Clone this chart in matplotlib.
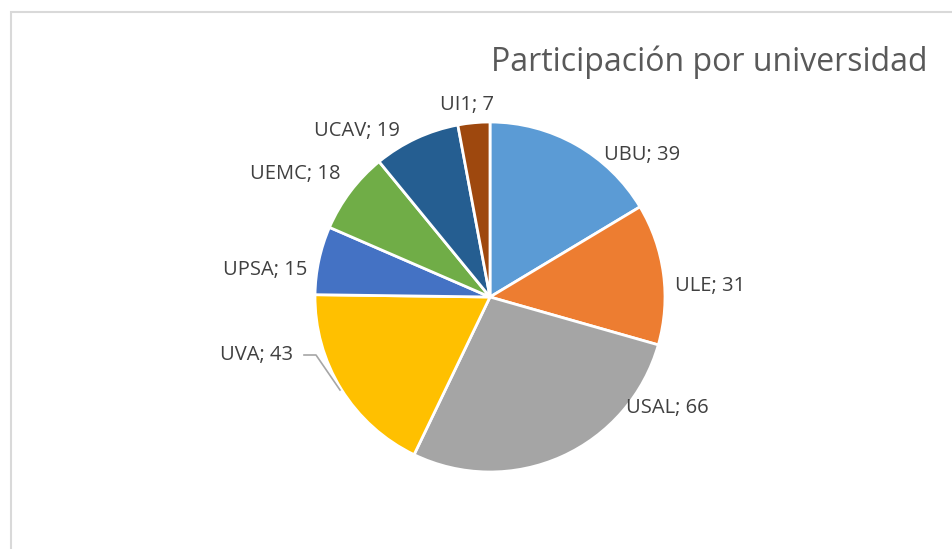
import matplotlib.pyplot as plt
from matplotlib.patches import Rectangle

universidades = ["UBU", "ULE", "USAL", "UVA", "UPSA", "UEMC", "UCAV", "UI1"]
participantes = [39, 31, 66, 43, 15, 18, 19, 7]
colores = ["#5B9BD5", "#ED7D31", "#A5A5A5", "#FFC000",
           "#4472C4", "#70AD47", "#255E91", "#9E480E"]

# label positions in pixels (x, y from top)
pos_etiquetas = [(642, 155), (710, 286), (667, 408), (257, 355),
                 (265, 270), (295, 174), (357, 131), (467, 105)]

W, H = 952, 549
fig = plt.figure(figsize=(W / 100, H / 100), dpi=100)
ax = fig.add_axes([0, 0, 1, 1])
ax.set_xlim(0, W)
ax.set_ylim(0, H)
ax.axis("off")

# chart area border
ax.add_patch(Rectangle((11, -5), W + 10, H - 12 + 5, fill=False,
                       edgecolor="#D9D9D9", lw=1.5))

ax.pie(participantes, colors=colores, startangle=90, counterclock=False,
       center=(490, H - 297), radius=175,
       wedgeprops=dict(edgecolor="white", linewidth=2))
ax.set_xlim(0, W)
ax.set_ylim(0, H)

for nombre, valor, (x, y) in zip(universidades, participantes, pos_etiquetas):
    ax.text(x, H - y, f"{nombre}; {valor}", ha="center", va="center",
            fontsize=14.5, color="#404040", family="Open Sans")

# leader line for UVA
ax.plot([304, 316, 340], [H - 355, H - 355, H - 390], color="#A6A6A6", lw=1.2)

ax.text(709, H - 62, "Participación por universidad", ha="center", va="center",
        fontsize=23, color="#595959", family="Open Sans")

fig.savefig("out.png", dpi=100)
